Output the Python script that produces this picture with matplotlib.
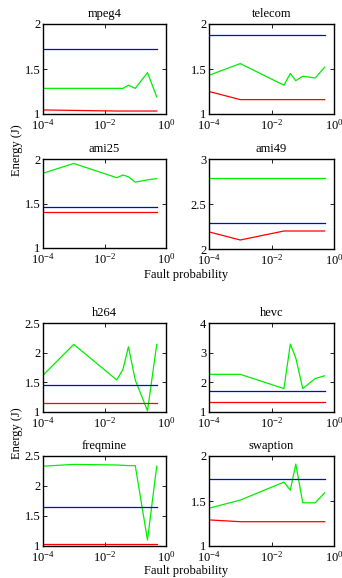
"""Energy vs fault probability, 8 benchmarks in two 2x2 groups."""

import matplotlib

matplotlib.use("Agg")
import matplotlib.pyplot as plt
from matplotlib.ticker import FixedLocator, FormatStrFormatter, LogFormatterMathtext, NullLocator

plt.rcParams["font.family"] = "serif"
plt.rcParams["font.serif"] = ["Liberation Serif", "DejaVu Serif"]
plt.rcParams["mathtext.fontset"] = "stix"

fault_prob = [1e-4, 1e-3, 0.025, 0.04, 0.06, 0.1, 0.25, 0.5]

names = ["mpeg4", "telecom", "ami25", "ami49", "h264", "hevc", "freqmine", "swaption"]

green = {
    "mpeg4": [1.285, 1.285, 1.285, 1.285, 1.32, 1.285, 1.46, 1.19],
    "telecom": [1.43, 1.56, 1.32, 1.45, 1.37, 1.42, 1.40, 1.52],
    "ami25": [1.84, 1.95, 1.79, 1.82, 1.80, 1.74, 1.765, 1.78],
    "ami49": [2.79, 2.79, 2.79, 2.79, 2.79, 2.79, 2.79, 2.79],
    "h264": [1.62, 2.14, 1.54, 1.72, 2.10, 1.54, 1.02, 2.14],
    "hevc": [2.27, 2.27, 1.79, 3.29, 2.82, 1.79, 2.13, 2.22],
    "freqmine": [2.33, 2.36, 2.35, 2.345, 2.34, 2.34, 1.10, 2.33],
    "swaption": [1.42, 1.51, 1.71, 1.62, 1.91, 1.48, 1.48, 1.59],
}
blue = {
    "mpeg4": [1.72] * 8,
    "telecom": [1.88] * 8,
    "ami25": [1.46] * 8,
    "ami49": [2.285] * 8,
    "h264": [1.45] * 8,
    "hevc": [1.71] * 8,
    "freqmine": [1.65] * 8,
    "swaption": [1.74] * 8,
}
red = {
    "mpeg4": [1.045, 1.04, 1.033, 1.033, 1.033, 1.033, 1.033, 1.033],
    "telecom": [1.25, 1.16, 1.16, 1.16, 1.16, 1.16, 1.16, 1.16],
    "ami25": [1.40] * 8,
    "ami49": [2.19, 2.10, 2.20, 2.20, 2.20, 2.20, 2.20, 2.20],
    "h264": [1.16] * 8,
    "hevc": [1.34] * 8,
    "freqmine": [1.04] * 8,
    "swaption": [1.29, 1.27, 1.27, 1.27, 1.27, 1.27, 1.27, 1.27],
}
y_ranges = {
    "mpeg4": (1, 2, [1, 1.5, 2]),
    "telecom": (1, 2, [1, 1.5, 2]),
    "ami25": (1, 2, [1, 1.5, 2]),
    "ami49": (2, 3, [2, 2.5, 3]),
    "h264": (1, 2.5, [1, 1.5, 2, 2.5]),
    "hevc": (1, 4, [1, 2, 3, 4]),
    "freqmine": (1, 2.5, [1, 1.5, 2, 2.5]),
    "swaption": (1, 2, [1, 1.5, 2]),
}

W, H = 342, 578
# axes boxes in pixels: left, right, top, bottom
boxes = {
    "mpeg4": (43, 166, 24, 114),
    "telecom": (209, 334, 24, 114),
    "ami25": (43, 166, 159, 248),
    "ami49": (209, 334, 159, 249),
    "h264": (43, 166, 323, 412),
    "hevc": (209, 334, 323, 412),
    "freqmine": (43, 166, 456, 546),
    "swaption": (209, 334, 456, 546),
}

fig = plt.figure(figsize=(W / 100, H / 100), dpi=100)

for name in names:
    l, r, t, b = boxes[name]
    ax = fig.add_axes([l / W, 1 - b / H, (r - l) / W, (b - t) / H])
    ax.plot(fault_prob, green[name], color="#00ee00", lw=0.9)
    ax.plot(fault_prob, blue[name], color="#0000ff", lw=0.9)
    ax.plot(fault_prob, red[name], color="#ff0000", lw=0.9)
    ax.set_xscale("log")
    ax.set_xlim(1e-4, 1)
    lo, hi, ticks = y_ranges[name]
    ax.set_ylim(lo, hi)
    ax.yaxis.set_major_locator(FixedLocator(ticks))
    ax.yaxis.set_major_formatter(FormatStrFormatter("%g"))
    ax.xaxis.set_major_locator(FixedLocator([1e-4, 1e-2, 1]))
    ax.xaxis.set_major_formatter(LogFormatterMathtext())
    ax.xaxis.set_minor_locator(NullLocator())
    ax.tick_params(direction="in", length=3, width=0.6, labelsize=9,
                   top=True, right=True)
    ax.tick_params(axis="x", pad=3)
    ax.tick_params(axis="y", pad=2)
    for sp in ax.spines.values():
        sp.set_linewidth(1.0)
    ax.set_title(name, fontsize=9, pad=5)

for yc in (150, 433):
    fig.text(17 / W, 1 - yc / H, "Energy (J)", rotation=90, ha="center",
             va="center", fontsize=9)
for yc in (275, 571):
    fig.text(186 / W, 1 - yc / H, "Fault probability", ha="center",
             va="center", fontsize=9)

fig.savefig("out.png", dpi=100)
